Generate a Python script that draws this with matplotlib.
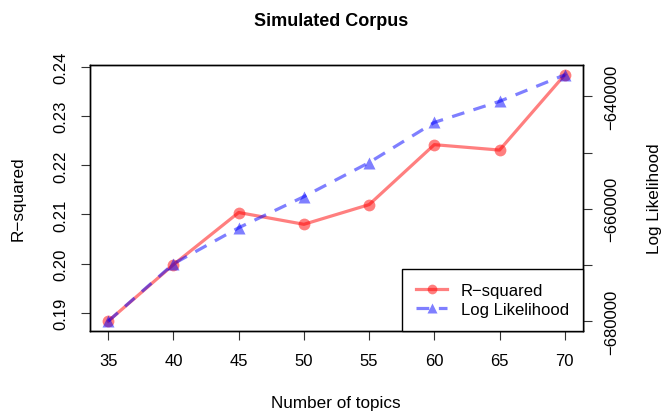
import numpy as np
import matplotlib
matplotlib.use('Agg')
import matplotlib.pyplot as plt

plt.rcParams['font.family'] = ['Liberation Sans', 'DejaVu Sans']

# data
topics = [35, 40, 45, 50, 55, 60, 65, 70]
rsquared = [0.1883, 0.1998, 0.2104, 0.2080, 0.2120, 0.2242, 0.2231, 0.2384]
loglik = [-680030, -669820, -663400, -657860, -651790, -644640, -640890, -636170]

x_ticks = [35, 40, 45, 50, 55, 60, 65, 70]
left_ticks = [0.19, 0.20, 0.21, 0.22, 0.23, 0.24]
right_ticks = [-680000, -670000, -660000, -650000, -640000]
right_labels = ['\u2212680000', '', '\u2212660000', '', '\u2212640000']

W, H = 665, 414
fig = plt.figure(figsize=(W / 100, H / 100), dpi=100)
ax = fig.add_axes([90 / W, 1 - 332 / H, (583 - 90) / W, (332 - 66) / H])
ax2 = ax.twinx()

red = (1, 0, 0, 0.5)
blue = (0, 0, 1, 0.5)

ax.plot(topics, rsquared, color=red, lw=2.3, marker='o', ms=8.5, mec='none', mfc=red)
ax2.plot(topics, loglik, color=blue, lw=2.3, ls=(0, (4, 3)), marker='^', ms=8,
         mec='none', mfc=blue)

# R style axis limits (4% padding)
def rlim(v):
    r = max(v) - min(v)
    return min(v) - 0.04 * r, max(v) + 0.04 * r

ax.set_xlim(rlim(topics))
ax.set_ylim(rlim(rsquared))
ax2.set_ylim(rlim(loglik))

ax.set_xticks(x_ticks)
ax.set_xticklabels([str(t) for t in x_ticks])
ax.set_yticks(left_ticks)
ax.set_yticklabels(['%.2f' % t for t in left_ticks], rotation=90, va='center')
ax2.set_yticks(right_ticks)
ax2.set_yticklabels(right_labels, rotation=90, va='center')

for a in (ax, ax2):
    a.tick_params(length=6.5, width=0.8, color='#333333', labelsize=12, pad=9)
    for s in a.spines.values():
        s.set_linewidth(1.0)
        s.set_color('black')

fig.text(331 / W, 1 - 22 / H, 'Simulated Corpus', ha='center', va='center',
         fontsize=13, fontweight='bold')
fig.text(336 / W, 1 - 404 / H, 'Number of topics', ha='center', va='center', fontsize=12.3)
fig.text(18 / W, 1 - 199 / H, 'R\u2212squared', ha='center', va='center',
         rotation=90, fontsize=12.3)
fig.text(654 / W, 1 - 199 / H, 'Log Likelihood', ha='center', va='center',
         rotation=90, fontsize=12.3)

# legend handles with smaller markers, like R's legend
h1, = ax2.plot([], [], color=red, lw=2.3, marker='o', ms=7, mec='none', mfc=red)
h2, = ax2.plot([], [], color=blue, lw=2.3, ls=(0, (4, 3)), marker='^', ms=7,
               mec='none', mfc=blue)
leg = ax2.legend([h1, h2], ['R\u2212squared', 'Log Likelihood'], loc='lower right',
                 borderaxespad=0, fancybox=False, framealpha=1, edgecolor='black',
                 fontsize=12, handlelength=1.9, borderpad=0.85, labelspacing=0.25,
                 handletextpad=0.8)
leg.get_frame().set_linewidth(1.0)

fig.savefig('out.png', dpi=100)
